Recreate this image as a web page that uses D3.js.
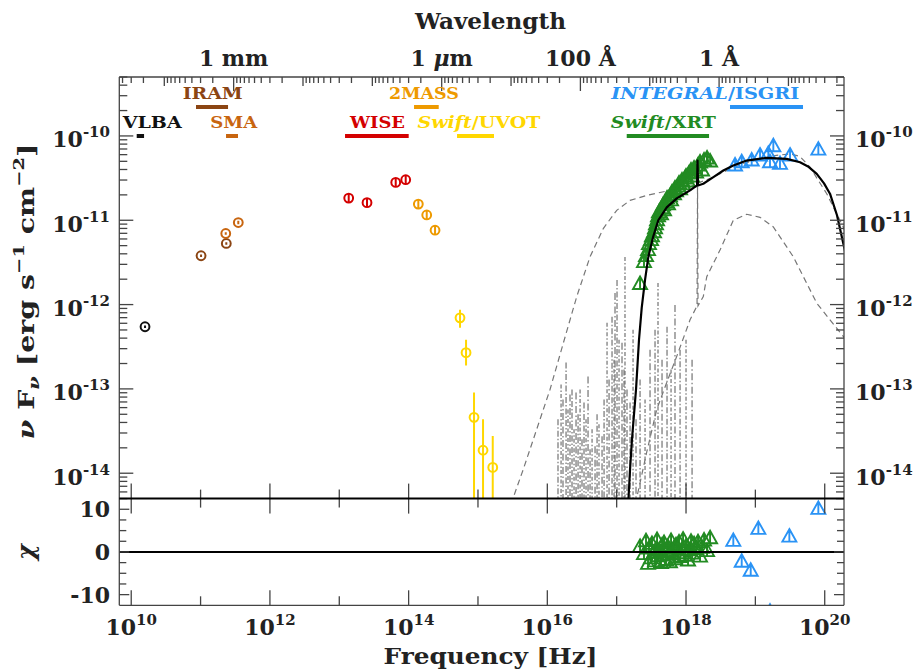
<!DOCTYPE html>
<html><head><meta charset="utf-8">
<script src="https://cdn.jsdelivr.net/npm/d3@7"></script>
<style>
body{margin:0;background:#fff}
svg text{font-family:"DejaVu Serif",serif;font-weight:bold;fill:#222}
</style></head><body><svg id="c" width="914" height="671"></svg>
<script>
// ---------------- DATA (log10 of frequency [Hz] and of nuFnu [erg/s/cm2]) ----------------
const xTickDecades = [10,11,12,13,14,15,16,17,18,19,20];
const xLabelDecades = [10,12,14,16,18,20];
const yTickDecades = [-14,-13,-12,-11,-10];
const chiMajor = [-10,0,10];
const wlLabelText = ["1 mm","1 μm","100 Å","1 Å"];
const wlLabelMeters = [1e-3,1e-6,1e-8,1e-10];

const instNames = ["VLBA","IRAM","SMA","WISE","2MASS","Swift/UVOT","Swift/XRT","INTEGRAL/ISGRI"];
const instLoNu = [10.079,10.934,11.367,13.083,14.078,14.698,17.145,18.634];
const instHiNu = [10.185,11.396,11.540,14.001,14.434,15.231,18.332,19.687];

const vlbaNu = [10.199], vlbaF = [-12.263], vlbaErr = [0.015];
const iramNu = [11.007,11.371], iramF = [-11.421,-11.275], iramErr = [0.015,0.015];
const smaNu = [11.363,11.544], smaF = [-11.157,-11.027], smaErr = [0.015,0.02];
const wiseNu = [13.136,13.400,13.814,13.958], wiseF = [-10.737,-10.791,-10.551,-10.519], wiseErr = [0.05,0.05,0.05,0.05];
const tmassNu = [14.140,14.261,14.381], tmassF = [-10.808,-10.937,-11.118], tmassErr = [0.05,0.05,0.05];
const uvotNu = [14.741,14.828,14.943,15.073,15.213];
const uvotF  = [-12.157,-12.570,-13.337,-13.727,-13.931];
const uvotHi = [-12.062,-12.417,-13.043,-13.361,-13.558];
const uvotLo = [-12.275,-12.724,-16,-16,-16];

const xrtNu = [17.337,17.394,17.423,17.452,17.466,17.495,17.509,17.538,17.553,17.567,17.582,17.596,17.610,17.639,17.654,
  17.668,17.683,17.711,17.726,17.740,17.769,17.784,17.798,17.827,17.841,17.856,17.885,17.899,17.914,17.942,
  17.957,17.986,18.000,18.029,18.043,18.072,18.087,18.116,18.145,18.173,18.202,18.231,18.260,18.303,18.347];
const xrtF = [-11.756,-11.496,-11.425,-11.354,-11.283,-11.236,-11.189,-11.142,-11.094,-11.047,-11.000,-10.953,-10.906,-10.929,-10.858,
  -10.823,-10.882,-10.787,-10.740,-10.811,-10.717,-10.764,-10.669,-10.693,-10.622,-10.658,-10.599,-10.563,-10.634,-10.528,
  -10.575,-10.504,-10.481,-10.540,-10.445,-10.410,-10.481,-10.386,-10.433,-10.351,-10.315,-10.410,-10.292,-10.268,-10.303];
const xrtChi = [1.2,-0.5,2.5,-2.8,0.8,-1.5,1.9,-0.2,-2.2,0.5,2.8,-1.0,0.3,-2.6,1.5,
  -0.8,2.1,-1.9,0.0,1.1,-2.4,2.6,-0.6,0.9,-1.7,1.6,-0.3,2.2,-1.2,0.6,
  2.9,-0.9,1.3,-2.0,0.4,2.4,-0.4,1.8,0.7,2.3,-1.1,1.0,2.7,0.2,3.2];

const isgriNu = [18.707,18.803,18.947,19.067,19.187,19.259,19.211,19.355,19.500,19.908];
const isgriF  = [-10.351,-10.312,-10.292,-10.233,-10.213,-10.123,-10.312,-10.331,-10.233,-10.162];
const isgriChiNu = [18.682,18.803,18.933,19.043,19.211,19.490,19.908];
const isgriChi   = [2.6,-2.3,-4.4,5.4,-14,3.6,10.1];

// total model (solid)
const modelNu = [17.164,17.193,17.221,17.279,17.322,17.361,17.409,17.456,17.524,17.600,17.722,17.866,18.058,18.159,18.166,18.173,
  18.249,18.389,18.538,18.682,18.875,19.164,19.452,19.644,19.759,19.885,19.990,20.076,20.177,20.268,20.32];
const modelF  = [-14.4,-13.952,-13.597,-13.007,-12.417,-12.039,-11.708,-11.437,-11.201,-11.0,-10.847,-10.740,-10.646,-10.587,-10.292,-10.587,
  -10.567,-10.492,-10.410,-10.351,-10.292,-10.260,-10.272,-10.312,-10.362,-10.449,-10.563,-10.685,-10.941,-11.275,-11.47];
// component A (dashed, broad)
const compANu = [15.433,15.510,15.654,15.847,16.039,16.231,16.424,16.616,16.807,17.001,17.193,17.433,17.722,18.058,18.159,18.346,
  18.587,18.822,19.067,19.283,19.500,19.644,19.788,20.029,20.196,20.268,20.32];
const compAF  = [-14.48,-14.286,-13.952,-13.479,-13.007,-12.456,-11.906,-11.433,-11.098,-10.882,-10.764,-10.705,-10.654,-10.607,-10.563,-10.504,
  -10.410,-10.327,-10.272,-10.233,-10.2125,-10.244,-10.371,-10.685,-10.961,-11.079,-11.2];
// component B (dashed, reflection hump with Fe line)
const compBNu = [17.236,17.289,17.433,17.578,17.722,17.866,18.058,18.159,18.166,18.173,18.249,18.299,18.490,18.682,18.875,19.067,
  19.259,19.547,19.885,20.076,20.268,20.32];
const compBF  = [-14.48,-14.294,-13.751,-13.243,-12.924,-12.614,-12.181,-12.015,-10.563,-12.015,-11.906,-11.669,-11.354,-11.0,-10.929,-10.965,
  -11.079,-11.433,-11.983,-12.181,-12.378,-12.43];
// component C (dash-dotted emission line spectrum): line energies and peak heights
const linesNu = [16.154,16.198,16.226,16.270,16.298,16.327,16.356,16.385,16.414,16.443,16.472,16.500,16.529,16.558,16.587,16.616,
  16.645,16.688,16.717,16.745,16.789,16.818,16.861,16.890,16.933,16.962,16.976,17.005,17.034,17.077,17.106,17.120,
  17.149,17.193,17.236,17.279,17.337,17.409,17.481,17.553,17.596,17.654,17.726,17.784,17.841,17.914,18.000,18.087];
const linesF  = [-13.361,-12.948,-13.125,-12.688,-13.243,-13.066,-13.007,-13.479,-13.043,-13.302,-13.007,-13.597,-13.161,-13.361,-12.854,-13.715,
  -13.479,-13.680,-13.302,-13.420,-13.562,-13.125,-12.216,-12.889,-12.145,-12.653,-11.862,-11.708,-12.417,-12.452,-12.771,-11.437,
  -13.007,-13.161,-12.299,-13.361,-12.889,-13.125,-12.535,-12.299,-11.744,-12.653,-12.263,-12.771,-12.004,-12.535,-12.417,-12.653];

// ---------------- LAYOUT / STYLE ----------------
const L = 119.3, R = 844, T = 77, MID = 498.6, B = 605.3;
const P = v => Math.pow(10, v);
const x = d3.scaleLog().domain([P(9.828), P(20.278)]).range([L, R]);
const y = d3.scaleLog().domain([5e-15, 5e-10]).range([MID, T]);
const yc = d3.scaleLinear().domain([-12.5, 12.5]).range([B, MID]);
const CLIGHT = 2.998e8;
const col = {VLBA:"#111", IRAM:"#8B4513", SMA:"#C8650F", WISE:"#D40000", "2MASS":"#EE9A00",
  "Swift/UVOT":"#FFD700", "Swift/XRT":"#228B22", "INTEGRAL/ISGRI":"#2A93F5"};
const axisCol = "#444";

const svg = d3.select("#c");
const defs = svg.append("defs");
defs.append("clipPath").attr("id","cu").append("rect").attr("x",L).attr("y",T).attr("width",R-L).attr("height",MID-T);
defs.append("clipPath").attr("id","cl").append("rect").attr("x",L).attr("y",MID).attr("width",R-L).attr("height",B-MID);

const up = svg.append("g").attr("clip-path","url(#cu)");
const lo = svg.append("g").attr("clip-path","url(#cl)");

const ln = d3.line().x(d => x(P(d[0]))).y(d => y(P(d[1])));
const zip = (a,b) => a.map((v,i) => [v, b[i]]);

// component C: emission lines (dash-dot), each drawn from its peak downwards
up.selectAll(null).data(zip(linesNu, linesF)).enter().append("path")
  .attr("d", d => `M${x(P(d[0]))},${y(P(d[1]))}V${y(P(-14.6))}`)
  .attr("stroke","#666").attr("stroke-width",1.1)
  .attr("stroke-dasharray", (d,i) => ["6,2,1.5,2","4,2,1.5,2","7,2.5,1.5,2.5"][i % 3])
  .attr("fill","none");
// dashed components
up.append("path").attr("d", ln(zip(compANu, compAF))).attr("stroke","#777").attr("stroke-width",1.2)
  .attr("stroke-dasharray","6,4").attr("fill","none");
up.append("path").attr("d", ln(zip(compBNu, compBF))).attr("stroke","#777").attr("stroke-width",1.2)
  .attr("stroke-dasharray","6,4").attr("fill","none");

// markers
const triPath = "M0,-7.5L7,5L-7,5Z M0,-7.5V5";
function triangles(g, nus, vals, ys, c) {
  g.selectAll(null).data(nus.map((n,i)=>[n, vals[i]])).enter().append("path")
    .attr("d", triPath).attr("transform", d => `translate(${x(P(d[0]))},${ys(d[1])})`)
    .attr("fill","none").attr("stroke", c).attr("stroke-width",1.9).attr("stroke-linejoin","miter");
}
triangles(up, xrtNu, xrtF, v => y(P(v)), col["Swift/XRT"]);
triangles(up, isgriNu, isgriF, v => y(P(v)), col["INTEGRAL/ISGRI"]);
triangles(lo, xrtNu, xrtChi, v => yc(v), col["Swift/XRT"]);
triangles(lo, isgriChiNu, isgriChi, v => yc(v), col["INTEGRAL/ISGRI"]);

// total model
up.append("path").attr("d", ln(zip(modelNu, modelF))).attr("stroke","#000").attr("stroke-width",2.2)
  .attr("fill","none").attr("stroke-linejoin","round");

// circles with error bars
function circles(nus, fs, lows, highs, c) {
  nus.forEach((n,i) => {
    const cx = x(P(n)), cy = y(P(fs[i]));
    up.append("line").attr("x1",cx).attr("x2",cx).attr("y1",y(P(lows[i]))).attr("y2",y(P(highs[i])))
      .attr("stroke",c).attr("stroke-width",2);
    up.append("circle").attr("cx",cx).attr("cy",cy).attr("r",4.4).attr("fill","none")
      .attr("stroke",c).attr("stroke-width",2);
  });
}
const sym = (f,e) => [f.map((v,i)=>v-e[i]), f.map((v,i)=>v+e[i])];
let s;
s = sym(vlbaF, vlbaErr); circles(vlbaNu, vlbaF, s[0], s[1], "#111");
s = sym(iramF, iramErr); circles(iramNu, iramF, s[0], s[1], col.IRAM);
s = sym(smaF, smaErr); circles(smaNu, smaF, s[0], s[1], col.SMA);
s = sym(wiseF, wiseErr); circles(wiseNu, wiseF, s[0], s[1], col.WISE);
s = sym(tmassF, tmassErr); circles(tmassNu, tmassF, s[0], s[1], col["2MASS"]);
circles(uvotNu, uvotF, uvotLo, uvotHi, col["Swift/UVOT"]);

// chi zero line
svg.append("line").attr("x1",L).attr("x2",R).attr("y1",yc(0)).attr("y2",yc(0)).attr("stroke","#000").attr("stroke-width",2);

// ---------------- AXES ----------------
const ax = svg.append("g").attr("stroke",axisCol).attr("stroke-width",1.3);
function tl(x1,y1,x2,y2){ ax.append("line").attr("x1",x1).attr("y1",y1).attr("x2",x2).attr("y2",y2); }
// frame
tl(L,T,R,T); tl(L,T,L,B); tl(R,T,R,B); tl(L,B,R,B);
svg.append("line").attr("x1",L).attr("x2",R).attr("y1",MID).attr("y2",MID).attr("stroke","#000").attr("stroke-width",2);

// x ticks (decades)
xTickDecades.forEach(d => {
  const px = x(P(d)); const len = (d % 2 === 0) ? 15 : 9;
  tl(px, MID, px, MID - len);
  tl(px, MID, px, MID + len);
  tl(px, B, px, B - len);
});
// y ticks upper panel (log)
for (let e = -15; e <= -10; e++) {
  for (let k = 1; k <= 9; k++) {
    const v = k * Math.pow(10, e);
    if (v < 5e-15 || v > 5e-10) continue;
    const py = y(v); const len = k === 1 ? 14 : 8;
    tl(L, py, L + len, py); tl(R, py, R - len, py);
  }
}
// chi ticks
for (let c = -10; c <= 10; c += 2.5) {
  const py = yc(c); const len = (c % 10 === 0) ? 10 : 7;
  tl(L, py, L + len, py); tl(R, py, R - len, py);
}
// top wavelength ticks
for (let n = -13; n <= -1; n++) {
  for (let k = 1; k <= 9; k++) {
    const lam = k * Math.pow(10, n); const nu = CLIGHT / lam;
    if (nu < x.domain()[0] || nu > x.domain()[1]) continue;
    const labeled = wlLabelMeters.some(m => Math.abs(m - lam) / lam < 1e-6);
    const len = k === 1 ? (labeled ? 14 : 9) : 6;
    tl(x(nu), T, x(nu), T + len);
  }
}

// tick labels
function powLabel(px, py, exp, anchor) {
  const t = svg.append("text").attr("x",px).attr("y",py).attr("text-anchor",anchor).style("font-size","22px");
  t.append("tspan").text("10");
  t.append("tspan").attr("dy",-10).style("font-size","15px").text(exp);
}
xLabelDecades.forEach(d => powLabel(x(P(d)), 635, String(d), "middle"));
yTickDecades.forEach(d => {
  powLabel(110, y(P(d)) + 11.5, String(d), "end");
  powLabel(855, y(P(d)) + 11.5, String(d), "start");
});
chiMajor.forEach(c => {
  svg.append("text").attr("x",110).attr("y",yc(c)+8).attr("text-anchor","end").style("font-size","22px").text(String(c));
});
wlLabelText.forEach((t,i) => {
  const px = x(CLIGHT / wlLabelMeters[i]);
  const te = svg.append("text").attr("x",px).attr("y",66).attr("text-anchor","middle").style("font-size","22px");
  if (t.includes("μ")) {
    te.append("tspan").text("1 ");
    te.append("tspan").style("font-style","italic").text("μ");
    te.append("tspan").text("m");
  } else te.text(t);
});

// axis titles
svg.append("text").attr("x",490.5).attr("y",29).attr("text-anchor","middle").style("font-size","23px")
  .attr("textLength",151).attr("lengthAdjust","spacingAndGlyphs").text("Wavelength");
svg.append("text").attr("x",490.5).attr("y",664).attr("text-anchor","middle").style("font-size","23px")
  .attr("textLength",214).attr("lengthAdjust","spacingAndGlyphs").text("Frequency [Hz]");
const yl = svg.append("text").attr("transform","translate(34,291.5) rotate(-90)").attr("text-anchor","middle")
  .style("font-size","22px").attr("textLength",296).attr("lengthAdjust","spacingAndGlyphs");
yl.append("tspan").style("font-style","italic").text("ν");
yl.append("tspan").text(" F");
yl.append("tspan").attr("dy",5).style("font-size","15px").style("font-style","italic").text("ν");
yl.append("tspan").attr("dy",-5).text(" [erg s");
yl.append("tspan").attr("dy",-10).style("font-size","15px").text("−1");
yl.append("tspan").attr("dy",10).text(" cm");
yl.append("tspan").attr("dy",-10).style("font-size","15px").text("−2");
yl.append("tspan").attr("dy",10).text("]");
svg.append("text").attr("transform","translate(34,552) rotate(-90)").attr("text-anchor","middle")
  .style("font-size","24px").style("font-style","italic").text("χ");

// instrument bands
const rowY = [T + 30, T + 59];
const instLayout = {
  "VLBA":{row:1, anchor:"start", ref:"lo", dx:-14, w:59},
  "IRAM":{row:0, anchor:"middle", ref:"mid", dx:0.7, w:60},
  "SMA":{row:1, anchor:"middle", ref:"mid", dx:1.7, w:47},
  "WISE":{row:1, anchor:"middle", ref:"mid", dx:0.6, w:55},
  "2MASS":{row:0, anchor:"middle", ref:"mid", dx:-2.4, w:70},
  "Swift/UVOT":{row:1, anchor:"middle", ref:"mid", dx:3.5, w:123},
  "Swift/XRT":{row:1, anchor:"middle", ref:"mid", dx:-4.5, w:105},
  "INTEGRAL/ISGRI":{row:0, anchor:"end", ref:"hi", dx:-3.7, w:188}
};
instNames.forEach((nm,i) => {
  const x1 = x(P(instLoNu[i])), x2 = x(P(instHiNu[i])), c = col[nm], lay = instLayout[nm];
  const by = rowY[lay.row];
  svg.append("line").attr("x1",x1).attr("x2",x2).attr("y1",by).attr("y2",by).attr("stroke",c).attr("stroke-width",4);
  const ref = lay.ref === "lo" ? x1 : lay.ref === "hi" ? x2 : (x1 + x2) / 2;
  const t = svg.append("text").attr("x", ref + lay.dx).attr("y", by - 8.5).attr("text-anchor", lay.anchor)
    .style("font-size","16px").style("fill", c)
    .attr("textLength", lay.w).attr("lengthAdjust","spacingAndGlyphs");
  const parts = nm.split("/");
  if (parts.length === 2) {
    t.append("tspan").style("font-style","italic").text(parts[0]);
    t.append("tspan").text("/" + parts[1]);
  } else t.text(nm);
});
</script></body></html>
